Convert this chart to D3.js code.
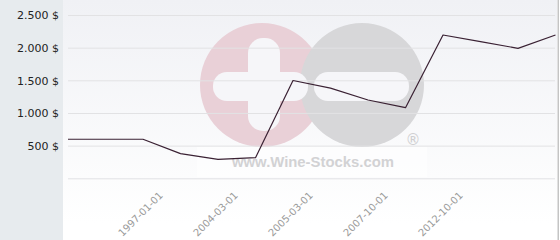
<!DOCTYPE html>
<html>
<head>
<meta charset="utf-8">
<script src="https://cdn.jsdelivr.net/npm/d3@7"></script>
<style>
  html, body { margin: 0; padding: 0; background: #ffffff; }
  svg { display: block; }
</style>
</head>
<body>
<svg id="chart" width="560" height="240"></svg>
<script>
// ---- data ----
const pointIndex = [0, 1, 2, 3, 4, 5, 6, 7, 8, 9, 10, 11, 12, 13];
const prices = [598, 598, 598, 377, 291, 315, 1497, 1381, 1199, 1081, 2194, 2092, 1990, 2194];
const xTickIndex = [2, 4, 6, 8, 10];
const xTickLabels = ["1997-01-01", "2004-03-01", "2005-03-01", "2007-10-01", "2012-10-01"];
const yTicks = [0, 500, 1000, 1500, 2000, 2500];
const yTickLabels = ["", "500 $", "1.000 $", "1.500 $", "2.000 $", "2.500 $"];

const W = 560, H = 240;
const svg = d3.select("#chart");
const defs = svg.append("defs");
const grad = defs.append("linearGradient").attr("id", "bg").attr("x1", 0).attr("y1", 0).attr("x2", 0).attr("y2", 1);
grad.append("stop").attr("offset", "0%").attr("stop-color", "#f0f1f5");
grad.append("stop").attr("offset", "100%").attr("stop-color", "#ffffff");

// backgrounds
svg.append("rect").attr("x", 0).attr("y", 0).attr("width", W).attr("height", H).attr("fill", "#ffffff");
svg.append("rect").attr("x", 0).attr("y", 0).attr("width", 63).attr("height", H).attr("fill", "#e7ebee");
svg.append("rect").attr("x", 63).attr("y", 0).attr("width", 494).attr("height", 224).attr("fill", "url(#bg)");
svg.append("rect").attr("x", 557.5).attr("y", 0).attr("width", 1.5).attr("height", H).attr("fill", "#c4c4c4");

const x = d3.scalePoint().domain(pointIndex).range([68, 555.5]);
const y = d3.scaleLinear().domain([0, 2500]).range([178.3, 15]);

// watermark
const wm = svg.append("g");
wm.append("circle").attr("cx", 262).attr("cy", 85).attr("r", 62).attr("fill", "#e9d0d7");
wm.append("circle").attr("cx", 362).attr("cy", 85).attr("r", 62).attr("fill", "#d7d7d9");
wm.append("rect").attr("x", 248).attr("y", 38).attr("width", 32).attr("height", 93).attr("rx", 15).attr("fill", "#f6f6f9");
wm.append("rect").attr("x", 213).attr("y", 72).attr("width", 95).attr("height", 29).attr("rx", 14).attr("fill", "#f6f6f9");
wm.append("rect").attr("x", 314).attr("y", 72).attr("width", 95).attr("height", 29).attr("rx", 14).attr("fill", "#f6f6f9");
wm.append("rect").attr("x", 197).attr("y", 147).attr("width", 230).attr("height", 30).attr("fill", "#ffffff").attr("opacity", 0.55);
wm.append("text").attr("x", 232).attr("y", 167).attr("textLength", 162).attr("lengthAdjust", "spacingAndGlyphs")
  .attr("font-family", "Liberation Sans, Arial, sans-serif").attr("font-weight", "bold").attr("font-size", 15)
  .attr("fill", "#d2d2d4").text("www.Wine-Stocks.com");
wm.append("text").attr("x", 413).attr("y", 145).attr("text-anchor", "middle")
  .attr("font-family", "DejaVu Sans, sans-serif").attr("font-size", 15)
  .attr("fill", "#cfcfd1").text("®");

// gridlines
const fmt = d3.formatLocale({decimal: ",", thousands: ".", grouping: [3], currency: ["", " $"]});
const yAxis = d3.axisLeft(y).tickValues(yTicks).tickSize(-(555 - 68)).tickFormat((d, i) => yTickLabels[i]);
const gy = svg.append("g").attr("transform", "translate(68,0)").call(yAxis);
gy.select(".domain").remove();
gy.selectAll(".tick line").attr("stroke", "#e2e2e4").attr("stroke-width", 1);
gy.selectAll(".tick text").attr("x", -9).attr("dy", "0.35em")
  .attr("font-family", "DejaVu Sans, sans-serif").attr("font-size", 11).attr("fill", "#222");

// x axis labels
const xAxis = d3.axisBottom(x).tickValues(xTickIndex).tickSize(0)
  .tickFormat(d => xTickLabels[xTickIndex.indexOf(d)]);
const gx = svg.append("g").attr("transform", "translate(0,178)").call(xAxis);
gx.select(".domain").remove();
gx.selectAll(".tick text")
  .attr("font-family", "DejaVu Sans, sans-serif").attr("font-size", 10).attr("fill", "#9a9a9a")
  .attr("text-anchor", "end").attr("dy", 0).attr("y", 0)
  .attr("transform", "translate(20,18) rotate(-45)");

// line
const line = d3.line().x((d, i) => x(pointIndex[i])).y(d => y(d));
svg.append("path").datum(prices).attr("d", line).attr("fill", "none")
  .attr("stroke", "#3a2133").attr("stroke-width", 1.2).attr("stroke-linejoin", "round");
</script>
</body>
</html>
